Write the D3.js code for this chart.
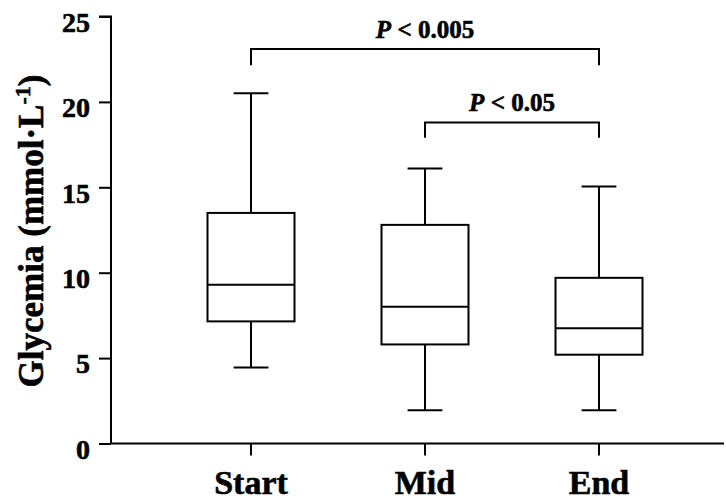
<!DOCTYPE html>
<html>
<head>
<meta charset="utf-8">
<script src="https://cdn.jsdelivr.net/npm/d3@7"></script>
<style>
  html, body { margin: 0; padding: 0; background: #fff; }
  svg text { font-family: "Liberation Serif", "Times New Roman", serif; font-weight: bold; fill: #000; stroke: #000; stroke-width: 0.6px; }
</style>
</head>
<body>
<svg id="chart" width="726" height="501"></svg>
<script>
// Glycemia box plots at three time points
const categories = ["Start", "Mid", "End"];
const whiskerLow  = [4.45, 1.95, 1.95];
const boxLow      = [7.15, 5.8, 5.2];
const median      = [9.3, 8.0, 6.75];
const boxHigh     = [13.5, 12.8, 9.7];
const whiskerHigh = [20.5, 16.1, 15.05];
const yTicks = [0, 5, 10, 15, 20, 25];

// Significance brackets: from category, to category, bar level, tip level, label
const brackets = [
  { from: "Start", to: "End", level: 23.1, tip: 22.15, label: "0.005" },
  { from: "Mid",   to: "End", level: 18.8, tip: 17.9,  label: "0.05" }
];

const svg = d3.select("#chart");
const axisLeftX = 111;
const axisRightX = 724;

const y = d3.scaleLinear().domain([0, 25]).range([443.5, 16.5]);
const x = d3.scaleBand().domain(categories).range([164, 686]).padding(0);
const boxW = x.bandwidth() * 0.5;
const capW = x.bandwidth() * 0.2;
const cx = c => x(c) + x.bandwidth() / 2;

// Y axis
const yAxis = svg.append("g")
  .attr("transform", `translate(${axisLeftX},0)`)
  .call(d3.axisLeft(y).tickValues(yTicks).tickSize(12).tickPadding(9).tickFormat(d3.format("d")));
yAxis.select(".domain").attr("stroke-width", 2).attr("d", `M-12,${y(25)}H0V${y(0)}`);
yAxis.selectAll(".tick line").attr("stroke-width", 2);
yAxis.selectAll(".tick text").attr("font-size", 28).attr("dy", "0.53em");

// X axis
const xAxis = svg.append("g")
  .attr("transform", `translate(0,${y(0)})`)
  .call(d3.axisBottom(x).tickSize(12).tickPadding(0));
xAxis.select(".domain").attr("stroke-width", 2).attr("d", `M${axisLeftX},0H${axisRightX}`);
xAxis.selectAll(".tick line").attr("stroke-width", 2);
xAxis.selectAll(".tick text").attr("font-size", 34).attr("y", 50.5).attr("dy", 0);

// Y axis title
const title = svg.append("text")
  .attr("transform", `translate(43,231) rotate(-90)`)
  .attr("text-anchor", "middle")
  .attr("font-size", 35);
title.append("tspan").text("Glycemia (mmol·L");
title.append("tspan").attr("font-size", 22).attr("dy", -13).text("-1");
title.append("tspan").attr("dy", 13).text(")");

// Boxes
const rows = categories.map((c, i) => ({
  c, wl: whiskerLow[i], q1: boxLow[i], med: median[i], q3: boxHigh[i], wh: whiskerHigh[i]
}));
const g = svg.append("g").attr("stroke", "#000").attr("stroke-width", 2).attr("fill", "none");
const box = g.selectAll("g.box").data(rows).join("g").attr("class", "box");
box.append("line").attr("x1", d => cx(d.c)).attr("x2", d => cx(d.c)).attr("y1", d => y(d.wh)).attr("y2", d => y(d.q3));
box.append("line").attr("x1", d => cx(d.c)).attr("x2", d => cx(d.c)).attr("y1", d => y(d.q1)).attr("y2", d => y(d.wl));
box.append("line").attr("x1", d => cx(d.c) - capW / 2).attr("x2", d => cx(d.c) + capW / 2).attr("y1", d => y(d.wh)).attr("y2", d => y(d.wh));
box.append("line").attr("x1", d => cx(d.c) - capW / 2).attr("x2", d => cx(d.c) + capW / 2).attr("y1", d => y(d.wl)).attr("y2", d => y(d.wl));
box.append("rect").attr("x", d => cx(d.c) - boxW / 2).attr("width", boxW)
  .attr("y", d => y(d.q3)).attr("height", d => y(d.q1) - y(d.q3)).attr("fill", "#fff");
box.append("line").attr("x1", d => cx(d.c) - boxW / 2).attr("x2", d => cx(d.c) + boxW / 2).attr("y1", d => y(d.med)).attr("y2", d => y(d.med));

// Brackets with p-value labels
const br = svg.append("g").selectAll("g").data(brackets).join("g");
br.append("path")
  .attr("fill", "none").attr("stroke", "#000").attr("stroke-width", 2)
  .attr("d", d => `M${cx(d.from)},${y(d.tip)}V${y(d.level)}H${cx(d.to)}V${y(d.tip)}`);
const lab = br.append("text")
  .attr("x", d => (cx(d.from) + cx(d.to)) / 2)
  .attr("y", d => y(d.level) - 11)
  .attr("text-anchor", "middle")
  .attr("font-size", 25);
lab.append("tspan").attr("font-style", "italic").text("P");
lab.append("tspan").text(d => " < " + d.label);
</script>
</body>
</html>
